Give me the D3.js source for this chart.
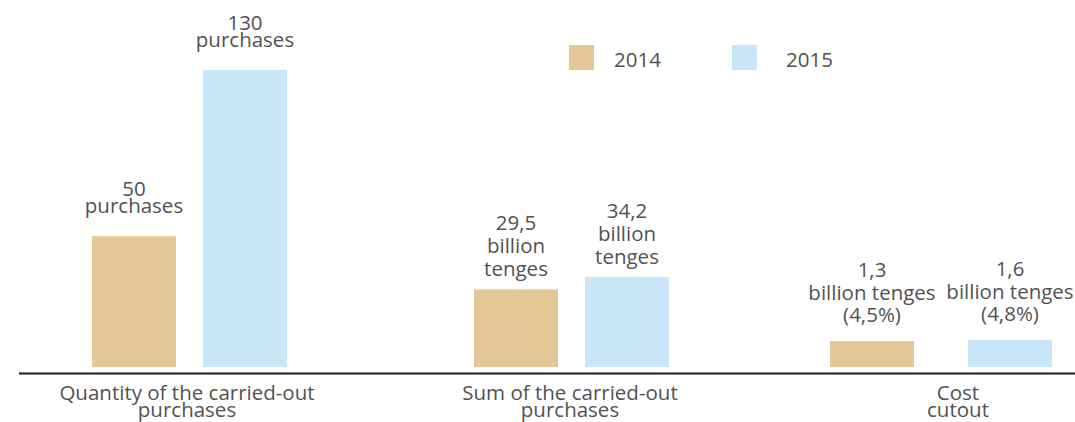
<!DOCTYPE html>
<html>
<head>
<meta charset="utf-8">
<script src="https://cdn.jsdelivr.net/npm/d3@7"></script>
<style>
  body { margin: 0; background: #fff; }
  text { font-family: "Open Sans", sans-serif; fill: #525252; }
</style>
</head>
<body>
<div id="chart"></div>
<script>
// data
var categories = ["Quantity of the carried-out\npurchases", "Sum of the carried-out\npurchases", "Cost\ncutout"];
var years = ["2014", "2015"];
var values2014 = [50, 29.5, 1.3];
var values2015 = [130, 34.2, 1.6];
var labels2014 = ["50\npurchases", "29,5\nbillion\ntenges", "1,3\nbillion tenges\n(4,5%)"];
var labels2015 = ["130\npurchases", "34,2\nbillion\ntenges", "1,6\nbillion tenges\n(4,8%)"];
// each group has its own scale in the original (not comparable between groups)
var domainFloor = [-13, 0, -6.5];

var colors = {"2014": "#e3c794", "2015": "#c9e6f8"};

var width = 1075, height = 422,
    baseline = 367;
var groupTop = [70, 277, 340];   // pixel top of the tallest bar in each group
var fontSize = "20.5px";

var svg = d3.select("#chart").append("svg")
    .attr("width", width)
    .attr("height", height);

var x0 = d3.scaleOrdinal()
    .domain(d3.range(categories.length))
    .range([189.5, 571.5, 941]);

var barW = 84;
var innerGap = [27, 27, 54];
var lineH = [16.5, 23, 22.5];
var labelGap = [23.5, 13.5, 19];

var groups = categories.map(function(c, i) {
  var maxV = Math.max(values2014[i], values2015[i]);
  var y = d3.scaleLinear().domain([domainFloor[i], maxV]).range([baseline, groupTop[i]]);
  return {i: i, y: y, bars: [
    {year: "2014", v: values2014[i], label: labels2014[i]},
    {year: "2015", v: values2015[i], label: labels2015[i]}
  ]};
});

groups.forEach(function(g) {
  var i = g.i;
  var x1 = d3.scaleBand().domain(years)
    .range([x0(i) - barW - innerGap[i] / 2, x0(i) + barW + innerGap[i] / 2])
    .paddingInner(innerGap[i] / (barW + innerGap[i]));

  var gg = svg.append("g");
  gg.selectAll("rect").data(g.bars).enter().append("rect")
    .attr("x", function(d) { return x1(d.year); })
    .attr("y", function(d) { return g.y(d.v); })
    .attr("width", x1.bandwidth())
    .attr("height", function(d) { return baseline - g.y(d.v); })
    .attr("fill", function(d) { return colors[d.year]; });

  gg.selectAll("text.val").data(g.bars).enter().append("text")
    .attr("class", "val")
    .attr("text-anchor", "middle")
    .attr("font-size", fontSize)
    .each(function(d) {
      var lines = d.label.split("\n");
      var cx = x1(d.year) + x1.bandwidth() / 2;
      var lastY = g.y(d.v) - labelGap[i];
      d3.select(this).selectAll("tspan").data(lines).enter().append("tspan")
        .attr("x", cx)
        .attr("y", function(l, k) { return lastY - (lines.length - 1 - k) * lineH[i]; })
        .text(function(l) { return l; });
    });
});

// baseline axis
svg.append("line")
  .attr("x1", 19).attr("x2", width)
  .attr("y1", 373.5).attr("y2", 373.5)
  .attr("stroke", "#1a1a1a")
  .attr("stroke-width", 2);

// category labels
var catCenters = [187, 570, 958];
svg.selectAll("text.cat").data(categories).enter().append("text")
  .attr("class", "cat")
  .attr("text-anchor", "middle")
  .attr("font-size", fontSize)
  .each(function(d, i) {
    d3.select(this).selectAll("tspan").data(d.split("\n")).enter().append("tspan")
      .attr("x", catCenters[i])
      .attr("y", function(l, k) { return 400 + k * 17; })
      .text(function(l) { return l; });
  });

// legend
var legendText = [45, 54];
var legend = svg.selectAll("g.legend").data(years).enter().append("g")
  .attr("class", "legend")
  .attr("transform", function(d, i) { return "translate(" + (569 + i * 163) + ",45)"; });
legend.append("rect")
  .attr("width", 25).attr("height", 25)
  .attr("fill", function(d) { return colors[d]; });
legend.append("text")
  .attr("x", function(d, i) { return legendText[i]; })
  .attr("y", 21.5)
  .attr("font-size", fontSize)
  .text(function(d) { return d; });
</script>
</body>
</html>
